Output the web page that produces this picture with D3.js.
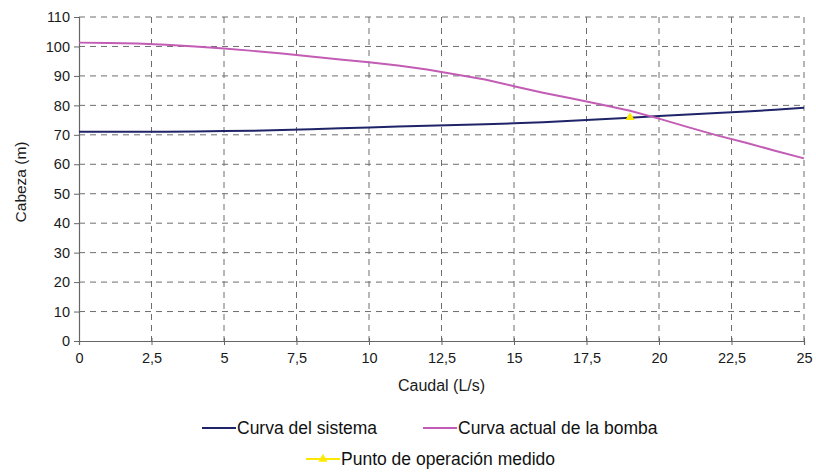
<!DOCTYPE html>
<html>
<head>
<meta charset="utf-8">
<script src="https://cdn.jsdelivr.net/npm/d3@7"></script>
<style>
  body { margin: 0; background: #fff; }
  text { font-family: "Liberation Sans", Arial, sans-serif; }
</style>
</head>
<body>
<div id="chart"></div>
<script>
// data
const caudal  = [0, 1, 2, 3, 4, 5, 6, 7, 8, 9, 10, 11, 12, 13, 14, 15, 16, 17, 18, 19, 20, 21, 22, 23, 24, 25];
const sistema = [71.0, 71.0, 71.0, 71.0, 71.1, 71.3, 71.4, 71.6, 71.9, 72.2, 72.5, 72.8, 73.1, 73.3, 73.6,
                 73.9, 74.3, 74.8, 75.3, 75.8, 76.4, 76.9, 77.4, 77.9, 78.5, 79.2];
const bomba   = [101.3, 101.2, 101.0, 100.6, 100.0, 99.3, 98.5, 97.6, 96.6, 95.6, 94.6, 93.5, 92.2, 90.5, 88.8,
                 86.5, 84.3, 82.3, 80.3, 78.2, 75.5, 72.6, 69.8, 67.3, 64.6, 62.0];
const puntoQ = [19];
const puntoH = [75.9];
const xTicks = [0, 2.5, 5, 7.5, 10, 12.5, 15, 17.5, 20, 22.5, 25];
const yTicks = [0, 10, 20, 30, 40, 50, 60, 70, 80, 90, 100, 110];

const W = 816, H = 472;
const margin = {top: 17, right: 12, bottom: 131, left: 79};
const width = W - margin.left - margin.right,
      height = H - margin.top - margin.bottom;

const svg = d3.select("#chart").append("svg")
    .attr("width", W)
    .attr("height", H);

const g = svg.append("g")
    .attr("transform", `translate(${margin.left}, ${margin.top})`);

const x = d3.scaleLinear().domain([0, 25]).range([0, width]);
const y = d3.scaleLinear().domain([0, 110]).range([height, 0]);

const fmt = d => String(d).replace(".", ",");

// grid
g.append("g").selectAll("line")
    .data(yTicks.filter(d => d > 0))
    .join("line")
    .attr("x1", 0).attr("x2", width)
    .attr("y1", d => y(d)).attr("y2", d => y(d))
    .attr("stroke", "#6e6e6e")
    .attr("stroke-dasharray", "6,5");

g.append("g").selectAll("line")
    .data(xTicks.filter(d => d > 0))
    .join("line")
    .attr("x1", d => x(d)).attr("x2", d => x(d))
    .attr("y1", 0).attr("y2", height)
    .attr("stroke", "#6e6e6e")
    .attr("stroke-dasharray", "6,5");

// axes
const xAxis = g.append("g")
    .attr("transform", `translate(0, ${height})`)
    .call(d3.axisBottom(x).tickValues(xTicks).tickFormat(fmt).tickSize(4).tickPadding(8));
const yAxis = g.append("g")
    .call(d3.axisLeft(y).tickValues(yTicks).tickSize(5).tickPadding(4));

[xAxis, yAxis].forEach(a => {
    a.select(".domain").attr("stroke", "#666").attr("stroke-width", 1.2);
    a.selectAll(".tick line").attr("stroke", "#666");
    a.selectAll(".tick text")
        .attr("fill", "#1a1a1a")
        .style("font-size", "14.5px")
        .style("font-family", "'Liberation Sans', Arial, sans-serif");
});
xAxis.selectAll(".tick line").attr("y1", -3);

// lines
const pts = arr => caudal.map((q, i) => [q, arr[i]]);
const line = d3.line().x(d => x(d[0])).y(d => y(d[1]));

g.append("path")
    .datum(pts(sistema))
    .attr("fill", "none")
    .attr("stroke", "#1f2468")
    .attr("stroke-width", 2)
    .attr("d", line);

g.append("path")
    .datum(pts(bomba))
    .attr("fill", "none")
    .attr("stroke", "#c25cb4")
    .attr("stroke-width", 2)
    .attr("d", line);

const tri = d3.symbol().type(d3.symbolTriangle).size(36);
g.selectAll(".punto")
    .data(puntoQ.map((q, i) => [q, puntoH[i]]))
    .join("path")
    .attr("class", "punto")
    .attr("transform", d => `translate(${x(d[0])}, ${y(d[1])})`)
    .attr("d", tri)
    .attr("fill", "#ffe800");

// axis titles
svg.append("text")
    .attr("x", margin.left + width / 2)
    .attr("y", 391)
    .attr("text-anchor", "middle")
    .style("font-size", "16px")
    .attr("fill", "#1a1a1a")
    .text("Caudal (L/s)");

svg.append("text")
    .attr("transform", `translate(26, ${margin.top + y(54)}) rotate(-90)`)
    .attr("text-anchor", "middle")
    .style("font-size", "15.5px")
    .attr("fill", "#1a1a1a")
    .text("Cabeza (m)");

// legend
const legend = [
    {label: "Curva del sistema", color: "#1f2468", x: 202, y: 428, marker: false},
    {label: "Curva actual de la bomba", color: "#c25cb4", x: 423, y: 428, marker: false},
    {label: "Punto de operación medido", color: "#ffe800", x: 306, y: 459, marker: true}
];
const lg = svg.append("g").selectAll("g")
    .data(legend)
    .join("g")
    .attr("transform", d => `translate(${d.x}, ${d.y})`);
lg.append("line")
    .attr("x1", 0).attr("x2", 34)
    .attr("y1", 0).attr("y2", 0)
    .attr("stroke", d => d.color)
    .attr("stroke-width", 2);
lg.filter(d => d.marker).append("path")
    .attr("transform", "translate(17, 0)")
    .attr("d", tri)
    .attr("fill", d => d.color);
lg.append("text")
    .attr("x", 35)
    .attr("y", 0)
    .attr("dy", "0.35em")
    .style("font-size", "17.5px")
    .attr("fill", "#111")
    .text(d => d.label);
</script>
</body>
</html>
